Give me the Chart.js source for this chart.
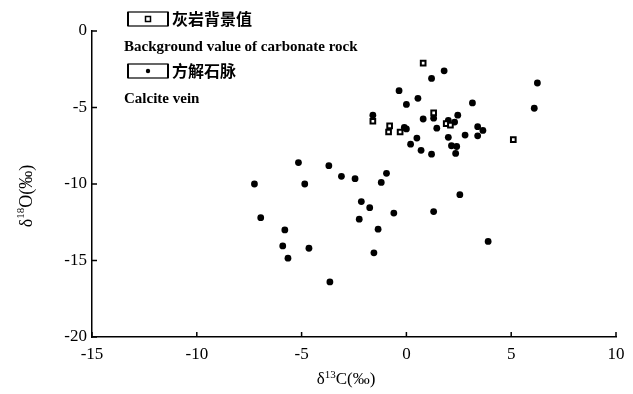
<!DOCTYPE html>
<html>
<head>
<meta charset="utf-8">
<script src="https://cdn.jsdelivr.net/npm/chart.js@4.4.1/dist/chart.umd.min.js"></script>
<style>
  body { margin: 0; background: #fff; }
  canvas { display: block; }
</style>
</head>
<body>
<canvas id="isoChart" width="633" height="394"></canvas>
<script>
// background value of carbonate rock (squares)
const bgX = [0.8, 1.3, -1.6, -0.8, -0.85, -0.3, 1.9, 2.1, 5.1];
const bgY = [-2.1, -5.35, -5.9, -6.2, -6.6, -6.6, -6.05, -6.15, -7.1];

// calcite vein (dots)
const veinX = [1.8, 1.2, 6.25, -0.35, 0.55, 0.0, 3.15, 6.1, 1.3, 0.8, 2.45, 2.0, 2.3, -1.6,
  1.45, -0.1, 0.0, 3.4, 3.65, 3.4, 2.8, 2.0, 0.5, 0.2, 0.7, 2.15, 2.4, 1.2, 2.35,
  -5.15, -3.7, -3.1, -2.45, -0.95, -1.2, -7.25, -4.85, 2.55, -2.15, -1.75, -6.95,
  -2.25, -0.6, 1.3, -5.8, -1.35, -5.9, -4.65, -5.65, -1.55, 3.9, -3.65];
const veinY = [-2.6, -3.1, -3.4, -3.9, -4.4, -4.8, -4.7, -5.05, -5.7, -5.75, -5.5, -5.85, -5.95, -5.5,
  -6.35, -6.3, -6.4, -6.25, -6.5, -6.85, -6.8, -6.95, -7.0, -7.4, -7.8, -7.5, -7.55, -8.05, -8.0,
  -8.6, -8.8, -9.5, -9.65, -9.3, -9.9, -10.0, -10.0, -10.7, -11.15, -11.55, -12.2,
  -12.3, -11.9, -11.8, -13.0, -12.95, -14.05, -14.2, -14.85, -14.5, -13.75, -16.4];

const xTicks = [-15, -10, -5, 0, 5, 10];
const yTicks = [0, -5, -10, -15, -20];

const legendCn = ["灰岩背景值", "方解石脉"];
const legendEn = ["Background value of carbonate rock", "Calcite vein"];

const serif = "'Liberation Serif', 'DejaVu Serif', serif";
const cjk = "'Noto Sans CJK SC', sans-serif";

function pairs(xs, ys) {
  return xs.map((x, i) => ({ x: x, y: ys[i] }));
}

// draw text with a raised small part, e.g. δ 13 C(‰)
function drawSup(ctx, parts, cx, cy, size) {
  const big = size + "px " + serif;
  const small = Math.round(size * 0.62) + "px " + serif;
  let w = 0;
  parts.forEach(p => { ctx.font = p.sup ? small : big; w += ctx.measureText(p.t).width; });
  let x = cx - w / 2;
  ctx.textBaseline = "middle";
  ctx.textAlign = "left";
  parts.forEach(p => {
    ctx.font = p.sup ? small : big;
    ctx.fillText(p.t, x, p.sup ? cy - size * 0.3 : cy);
    x += ctx.measureText(p.t).width;
  });
}

const decorPlugin = {
  id: "decor",
  afterDraw(chart) {
    const ctx = chart.ctx;
    const xs = chart.scales.x, ys = chart.scales.y;
    ctx.save();
    ctx.strokeStyle = "#000";
    ctx.fillStyle = "#000";
    ctx.lineWidth = 1.5;

    // inward ticks
    xTicks.forEach(v => {
      const px = xs.getPixelForValue(v);
      ctx.beginPath();
      ctx.moveTo(px, ys.bottom);
      ctx.lineTo(px, ys.bottom - 5);
      ctx.stroke();
    });
    yTicks.forEach(v => {
      const py = ys.getPixelForValue(v);
      ctx.beginPath();
      ctx.moveTo(xs.left, py);
      ctx.lineTo(xs.left + 5, py);
      ctx.stroke();
    });

    // axis titles
    drawSup(ctx, [{ t: "δ" }, { t: "13", sup: true }, { t: "C(‰)" }], 346, 380, 17);
    ctx.save();
    ctx.translate(27, 196);
    ctx.rotate(-Math.PI / 2);
    drawSup(ctx, [{ t: "δ" }, { t: "18", sup: true }, { t: "O(‰)" }], 0, 0, 18);
    ctx.restore();

    // legend
    const rowsY = [19, 71];
    rowsY.forEach((ry, i) => {
      ctx.lineWidth = 1.2;
      ctx.strokeRect(128, ry - 7, 40, 14);
      ctx.lineWidth = 2;
      ctx.beginPath();
      ctx.moveTo(128, ry - 7); ctx.lineTo(128, ry + 7);
      ctx.moveTo(168, ry - 7); ctx.lineTo(168, ry + 7);
      ctx.stroke();
      if (i === 0) {
        ctx.lineWidth = 1.5;
        ctx.strokeRect(145.5, ry - 2.5, 5, 5);
      } else {
        ctx.beginPath();
        ctx.arc(148, ry, 2.2, 0, Math.PI * 2);
        ctx.fill();
      }
      ctx.textAlign = "left";
      ctx.textBaseline = "middle";
      ctx.font = "bold 16px " + cjk;
      ctx.fillText(legendCn[i], 172, ry);
      ctx.font = "bold 15px " + serif;
      ctx.fillText(legendEn[i], 124, ry + 28);
    });
    ctx.restore();
  }
};

new Chart(document.getElementById("isoChart"), {
  type: "scatter",
  data: {
    datasets: [
      {
        label: legendEn[0],
        data: pairs(bgX, bgY),
        pointStyle: "rect",
        radius: 3.3,
        borderWidth: 2,
        borderColor: "#000",
        backgroundColor: "#fff"
      },
      {
        label: legendEn[1],
        data: pairs(veinX, veinY),
        pointStyle: "circle",
        radius: 3.4,
        borderWidth: 0,
        backgroundColor: "#000"
      }
    ]
  },
  options: {
    responsive: false,
    animation: false,
    devicePixelRatio: 1,
    layout: { padding: { left: 0, top: 31, right: 17, bottom: 0 } },
    plugins: { legend: { display: false }, tooltip: { enabled: false } },
    scales: {
      x: {
        type: "linear",
        min: -15, max: 10,
        afterBuildTicks: s => { s.ticks = xTicks.map(v => ({ value: v })); },
        afterFit: s => { s.height = 57; },
        grid: { display: false, drawTicks: false },
        border: { display: true, color: "#000", width: 1.5 },
        ticks: { color: "#000", padding: 7, font: { family: serif, size: 17 } }
      },
      y: {
        type: "linear",
        min: -20, max: 0,
        afterBuildTicks: s => { s.ticks = yTicks.map(v => ({ value: v })); },
        afterFit: s => { s.width = 92; },
        grid: { display: false, drawTicks: false },
        border: { display: true, color: "#000", width: 1.5 },
        ticks: { color: "#000", padding: 5, font: { family: serif, size: 17 } }
      }
    }
  },
  plugins: [decorPlugin]
});
</script>
</body>
</html>
